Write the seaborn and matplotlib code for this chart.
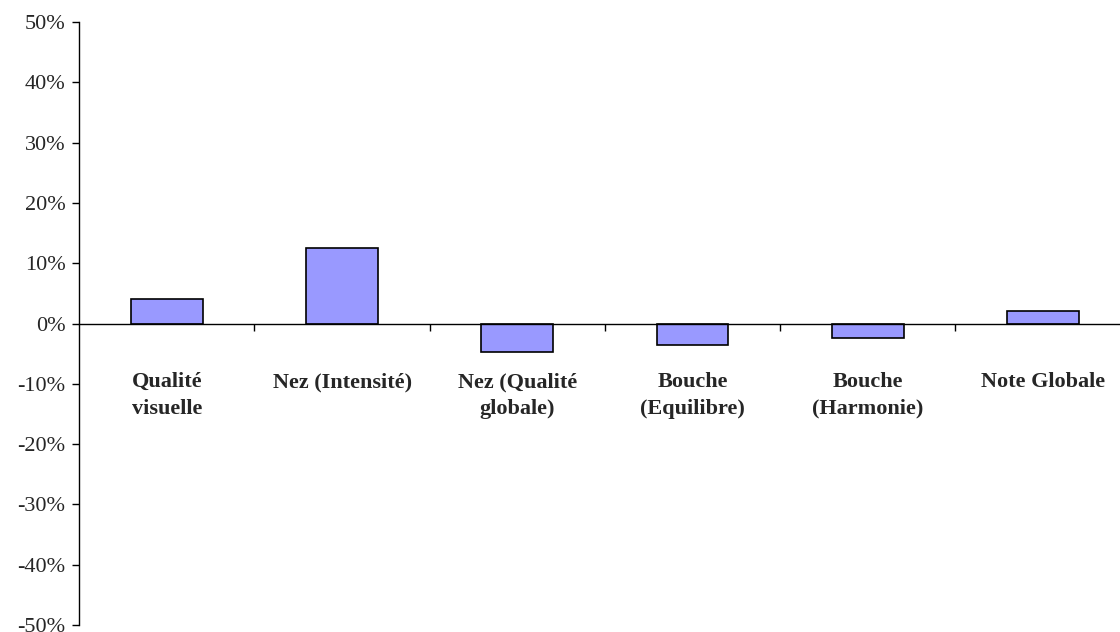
import matplotlib
matplotlib.use("Agg")
import matplotlib.pyplot as plt
import matplotlib.ticker as mticker
import seaborn as sns

# Écart relatif par critère de dégustation (en %)
categories = [
    "Qualité\nvisuelle",
    "Nez (Intensité)",
    "Nez (Qualité\nglobale)",
    "Bouche\n(Equilibre)",
    "Bouche\n(Harmonie)",
    "Note Globale",
]
values = [4.0, 12.6, -4.7, -3.6, -2.4, 2.0]
y_ticks = [-50, -40, -30, -20, -10, 0, 10, 20, 30, 40, 50]

sns.set_style("white")
plt.rcParams["font.family"] = ["Liberation Serif", "DejaVu Serif"]

fig = plt.figure(figsize=(11.2, 6.32), dpi=100)
ax = fig.add_axes([0.0708, 0.0110, 0.9292, 0.9542])

sns.barplot(x=categories, y=values, color="#9999FF", saturation=1,
            edgecolor="black", linewidth=1.2, width=0.41, ax=ax)

ax.set_xlim(-0.5, 5.44)
ax.set_ylim(-50, 50)
ax.set_xlabel("")
ax.set_ylabel("")

# Axe vertical
ax.set_yticks(y_ticks)
ax.yaxis.set_major_formatter(mticker.FuncFormatter(lambda v, _: f"{int(round(v))}%"))
ax.tick_params(axis="y", which="major", direction="out", length=5, width=1,
               color="black", labelsize=16, pad=5, left=True)

# Axe horizontal placé sur le zéro, graduations entre les catégories
for side in ("top", "right"):
    ax.spines[side].set_visible(False)
ax.spines["left"].set_color("black")
ax.spines["left"].set_linewidth(1)
ax.spines["bottom"].set_position(("data", 0))
ax.spines["bottom"].set_color("black")
ax.spines["bottom"].set_linewidth(1)

n = len(categories)
ax.set_xticks([i + 0.5 for i in range(n - 1)])
ax.xaxis.set_major_formatter(mticker.NullFormatter())
ax.tick_params(axis="x", which="major", direction="out", length=5, width=1,
               color="black", bottom=True)
ax.set_xticks(list(range(n)), minor=True)
ax.set_xticklabels(categories, minor=True, fontweight="bold", fontsize=16,
                   linespacing=1.45)
ax.tick_params(axis="x", which="minor", length=0, pad=35)

fig.savefig("out.png", dpi=100)
